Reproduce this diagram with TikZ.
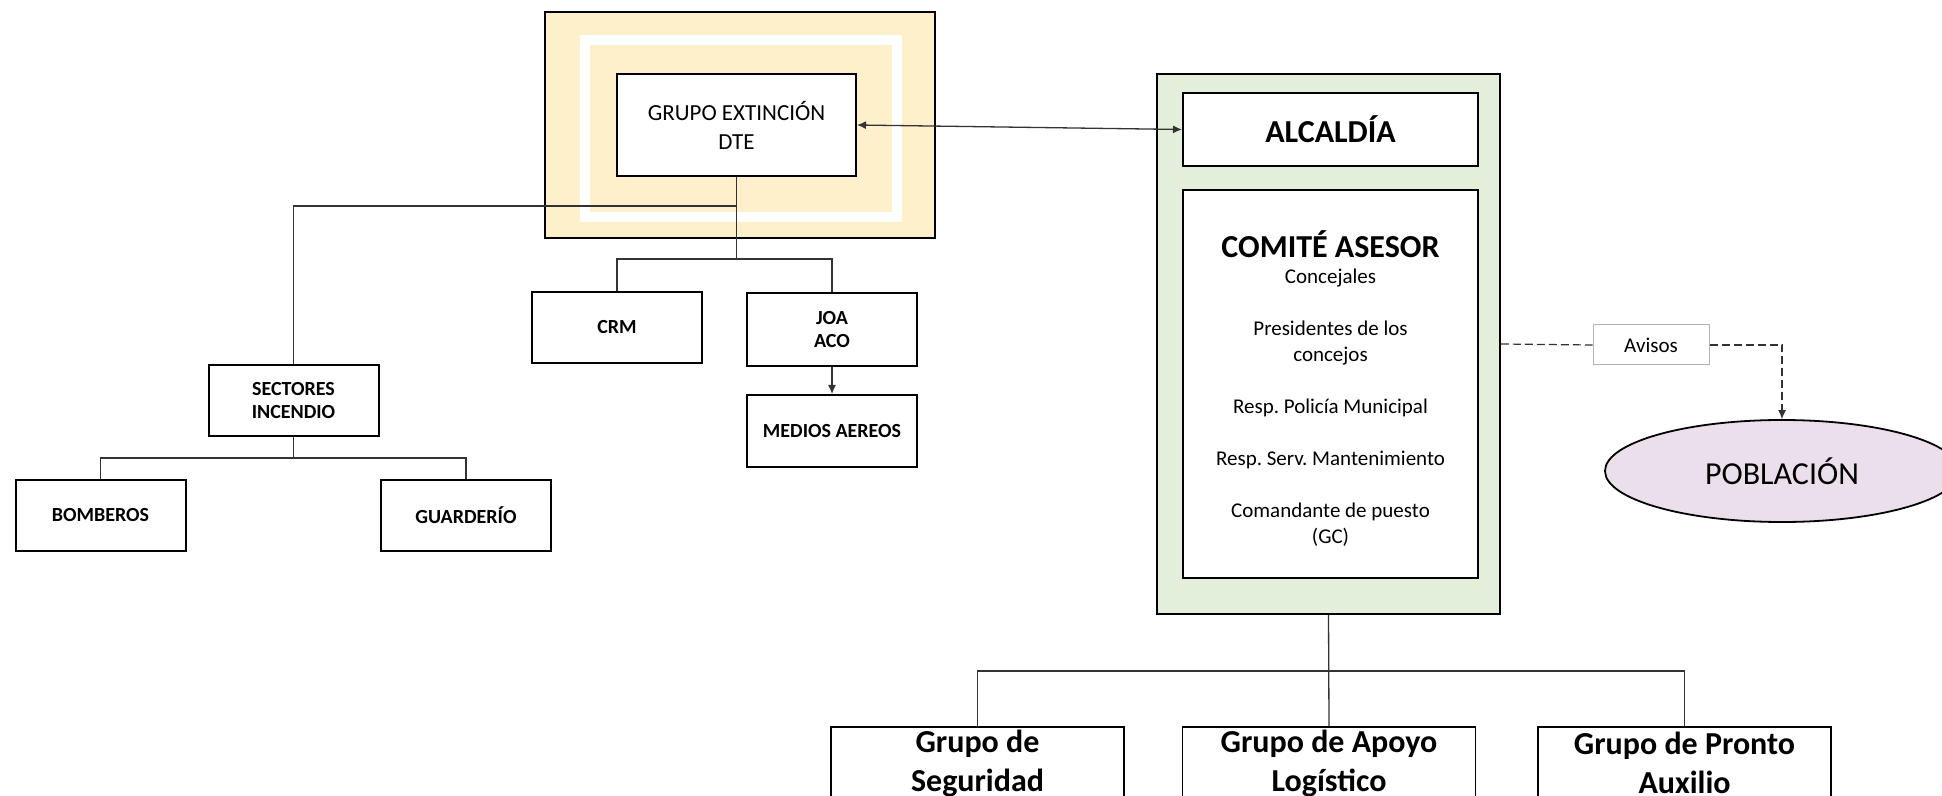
\documentclass[tikz,border=0pt]{standalone}
\usepackage{fontspec}
\setmainfont{Carlito}
\frenchspacing
\usetikzlibrary{arrows.meta,shapes.geometric}
\definecolor{yellowbg}{HTML}{FDF0CA}
\definecolor{greenbg}{HTML}{E3EFDA}
\definecolor{pinkbg}{HTML}{ECDFEC}
\tikzset{
  box/.style={draw=black, line width=1pt, fill=white, rectangle, inner sep=0pt, align=center},
  lbl/.style={box, font=\fontsize{10}{11.5}\selectfont\bfseries, minimum width=85pt, minimum height=35.5pt},
  bigbox/.style={box, line width=0.8pt, font=\fontsize{16}{19.5}\selectfont\bfseries, minimum width=146.5pt, minimum height=36pt},
  conn/.style={draw=black!80, line width=0.65pt},
  arr/.style={conn, -{Latex[length=4.5pt,width=4pt]}},
  darr/.style={conn, {Latex[length=4.5pt,width=4pt]}-{Latex[length=4.5pt,width=4pt]}},
  dconn/.style={draw=black!80, line width=0.6pt, dash pattern=on 4pt off 2pt},
}
\begin{document}
\begin{tikzpicture}[x=0.5pt,y=-0.5pt]
\useasboundingbox (0,0) rectangle (1942,796);
\fill[white] (0,0) rectangle (1942,796);
\clip (0,0) rectangle (1942,796);

% yellow frame group
\node[draw=black, line width=1pt, fill=yellowbg, inner sep=0pt, minimum width=195pt, minimum height=113pt] (ybox) at (740,125) {};
\draw[white, line width=5pt] (585,40) rectangle (897,217);
\node[box, font=\fontsize{11.5}{14.5}\selectfont, minimum width=119.5pt, minimum height=51pt] (dte) at (736.5,125) {GRUPO EXTINCIÓN\\DTE};

% left tree
\node[lbl] (crm) at (617,327.5) {CRM};
\node[lbl, minimum height=36.5pt] (joa) at (832,329.5) {JOA\\ACO};
\node[lbl, minimum height=36pt] (medios) at (832,431) {MEDIOS AEREOS};
\node[lbl] (sect) at (293.5,400.5) {SECTORES\\INCENDIO};
\node[lbl] (bomb) at (100.5,515.5) {BOMBEROS};
\node[lbl] (guard) at (466,515.5) {GUARDERÍO};

\coordinate (j0) at (736.5,206);
\coordinate (j1) at (736.5,259);
\coordinate (j2) at (293.5,458);
\draw[conn] (dte.south) -- (j1);
\draw[conn] (crm.north) |- (j1) -| (joa.north);
\draw[conn] (j0) -| (sect.north);
\draw[arr] (joa.south) -- (medios.north);
\draw[conn] (sect.south) -- (j2);
\draw[conn] (bomb.north) |- (j2) -| (guard.north);

% green group
\node[draw=black, line width=0.9pt, fill=greenbg, inner sep=0pt, minimum width=171.5pt, minimum height=270pt] (green) at (1328.5,344) {};
\node[box, font=\fontsize{16}{19}\selectfont\bfseries, minimum width=147.5pt, minimum height=36.5pt] (alc) at (1330.5,129.5) {ALCALDÍA};
\node[box, font=\fontsize{10.5}{13}\selectfont, minimum width=147.5pt, minimum height=194pt] (com) at (1330.5,384)
  {\rule{0pt}{18pt}{\fontsize{16}{13}\selectfont\bfseries COMITÉ ASESOR}\\
   Concejales\\[13pt]
   Presidentes de los\\
   concejos\\[13pt]
   Resp. Policía Municipal\\[13pt]
   Resp. Serv. Mantenimiento\\[13pt]
   Comandante de puesto\\
   (GC)};

\draw[darr] (dte.east) -- (alc.west);

% avisos and poblacion
\node[draw=black!30, line width=0.5pt, fill=white, inner sep=0pt, minimum width=58pt, minimum height=20pt, font=\fontsize{10.5}{12}\selectfont] (avisos) at (1651,345) {Avisos};
\node[ellipse, draw=black, line width=0.9pt, fill=pinkbg, inner sep=0pt, minimum width=177pt, minimum height=51pt, font=\fontsize{16}{19}\selectfont] (pob) at (1782,471) {POBLACIÓN};
\draw[dconn] (green.east) -- (avisos.west);
\draw[dconn, -{Latex[length=4.5pt,width=4pt]}] (avisos.east) -| (pob.north);

% bottom groups
\node[bigbox] (b1) at (977.5,763) {Grupo de\\Seguridad};
\node[bigbox] (b2) at (1329,763) {Grupo de Apoyo\\Logístico};
\node[bigbox] (b3) at (1684.5,763) {Grupo de Pronto\\Auxilio};
\coordinate (hb) at (1329,671);
\draw[conn] (green.south) -- (b2.north);
\draw[conn] (b1.north) |- (hb) -| (b3.north);
\end{tikzpicture}
\end{document}
